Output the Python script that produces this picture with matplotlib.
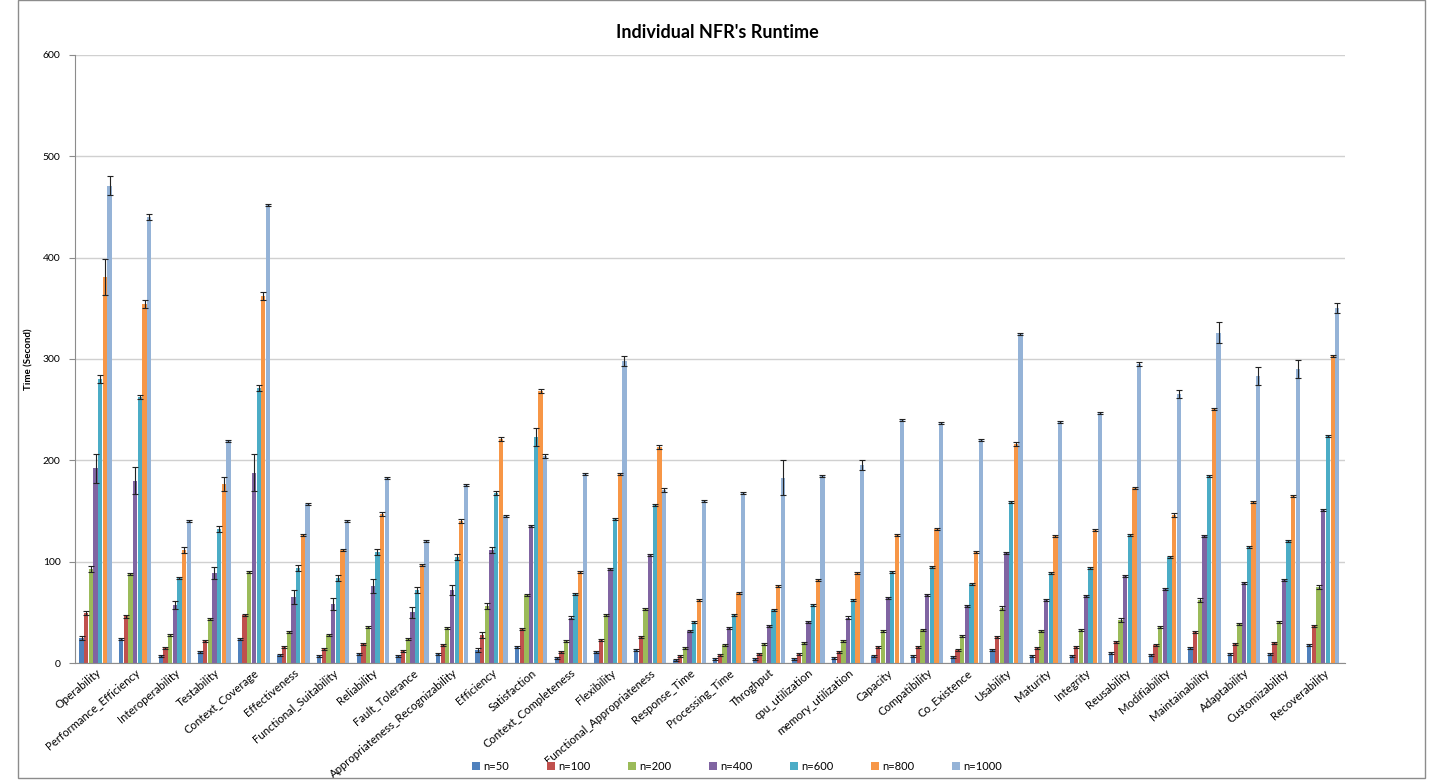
import numpy as np
import matplotlib.pyplot as plt
from matplotlib.patches import Rectangle

# NFR names along the x axis
nfrs = [
    "Operability", "Performance_Efficiency", "Interoperability", "Testability",
    "Context_Coverage", "Effectiveness", "Functional_Suitability", "Reliability",
    "Fault_Tolerance", "Appropriateness_Recognizability", "Efficiency",
    "Satisfaction", "Context_Completeness", "Flexibility",
    "Functional_Appropriateness", "Response_Time", "Processing_Time",
    "Throghput", "cpu_utilization", "memory_utilization", "Capacity",
    "Compatibility", "Co_Existence", "Usability", "Maturity", "Integrity",
    "Reusability", "Modifiability", "Maintainability", "Adaptability",
    "Customizability", "Recoverability",
]

series_names = ["n=50", "n=100", "n=200", "n=400", "n=600", "n=800", "n=1000"]

# mean runtime (seconds) per NFR for each problem size
n50 = [25, 24, 7, 11, 24, 8, 7, 9, 7, 9, 13, 16, 5, 11, 13, 3,
       4, 4, 4, 5, 7, 7, 6, 13, 7, 7, 10, 8, 15, 9, 9, 18]
n100 = [49, 46, 15, 22, 47, 16, 14, 19, 12, 18, 28, 34, 11, 23, 26, 7,
        8, 9, 9, 11, 16, 16, 13, 26, 15, 16, 21, 18, 31, 19, 20, 37]
n200 = [93, 88, 28, 44, 90, 31, 28, 36, 24, 35, 56, 67, 22, 47, 53, 15,
        18, 19, 20, 22, 32, 33, 27, 54, 32, 33, 43, 36, 62, 39, 41, 75]
n400 = [192, 180, 57, 89, 188, 65, 58, 76, 50, 72, 112, 135, 45, 93, 107, 32,
        35, 37, 41, 45, 64, 67, 56, 109, 62, 66, 86, 73, 125, 79, 82, 151]
n600 = [280, 262, 84, 132, 271, 94, 84, 110, 72, 105, 168, 223, 68, 142, 156, 41,
        47, 52, 57, 62, 90, 95, 78, 159, 89, 94, 126, 105, 185, 115, 120, 224]
n800 = [381, 354, 112, 177, 362, 126, 112, 147, 97, 140, 221, 268, 90, 187, 213, 62,
        69, 76, 82, 89, 126, 132, 110, 216, 125, 131, 173, 146, 251, 159, 165, 303]
n1000 = [471, 440, 140, 219, 452, 157, 140, 183, 120, 176, 145, 204, 187, 298, 171, 160,
         168, 183, 185, 195, 240, 237, 220, 325, 238, 247, 295, 265, 326, 283, 290, 350]

# error bar half-widths (seconds)
err50 = [2, 1, 1, 1, 1, 1, 1, 1, 1, 1, 2, 1, 1, 1, 1, 1,
         1, 1, 1, 1, 1, 1, 1, 1, 1, 1, 1, 1, 1, 1, 1, 1]
err100 = [2, 1, 1, 1, 1, 1, 1, 1, 1, 1, 3, 1, 1, 1, 1, 1,
          1, 1, 1, 1, 1, 1, 1, 1, 1, 1, 1, 1, 1, 1, 1, 1]
err200 = [3, 1, 1, 1, 1, 1, 1, 1, 1, 1, 3, 1, 1, 1, 1, 1,
          1, 1, 1, 1, 1, 1, 1, 2, 1, 1, 2, 1, 2, 1, 1, 2]
err400 = [14, 13, 4, 6, 18, 7, 6, 7, 5, 5, 3, 1, 1, 1, 1, 1,
          1, 1, 1, 1, 1, 1, 1, 1, 1, 1, 1, 1, 1, 1, 1, 1]
err600 = [4, 2, 1, 3, 3, 3, 3, 3, 3, 3, 2, 9, 1, 1, 1, 1,
          1, 1, 1, 1, 1, 1, 1, 1, 1, 1, 1, 1, 1, 1, 1, 1]
err800 = [18, 4, 3, 7, 4, 1, 1, 2, 1, 2, 2, 2, 1, 1, 2, 1,
          1, 1, 1, 1, 1, 1, 1, 2, 1, 1, 1, 2, 1, 1, 1, 1]
err1000 = [9, 3, 1, 1, 1, 1, 1, 1, 1, 1, 1, 2, 1, 5, 2, 1,
           1, 17, 1, 5, 1, 1, 1, 1, 1, 1, 2, 4, 10, 9, 9, 5]

colors = ["#4F81BD", "#C0504D", "#9BBB59", "#8064A2", "#4BACC6", "#F79646", "#95B3D7"]

plt.rcParams['font.family'] = ['Lato', 'DejaVu Sans']

values = [n50, n100, n200, n400, n600, n800, n1000]
errors = [err50, err100, err200, err400, err600, err800, err1000]

fig = plt.figure(figsize=(14.34, 7.82), dpi=100)
ax = fig.add_axes([0.052, 0.152, 0.886, 0.778])

x = np.arange(len(nfrs))
width = 0.118
for i, (name, vals, errs, col) in enumerate(zip(series_names, values, errors, colors)):
    offset = (i - 3) * width
    ax.bar(x + offset, vals, width * 0.92, color=col, label=name, zorder=2,
           yerr=errs, error_kw=dict(ecolor="#222222", elinewidth=0.8,
                                    capsize=2.2, capthick=0.8, zorder=3))

ax.set_ylim(0, 600)
ax.set_xlim(-0.53, len(nfrs) - 0.45)
ax.set_yticks(np.arange(0, 601, 100))
ax.yaxis.grid(True, color="#d0d0d0", linewidth=1.0, zorder=0)
ax.set_axisbelow(True)
for side in ["top", "right"]:
    ax.spines[side].set_visible(False)
ax.spines["left"].set_color("#8c8c8c")
ax.spines["bottom"].set_color("#8c8c8c")
ax.tick_params(axis="y", labelsize=7.5, length=4, color="#8c8c8c", pad=6)
ax.tick_params(axis="x", length=0, pad=3)
ax.set_xticks(x)
ax.set_xticklabels(nfrs, rotation=40, ha="right", rotation_mode="anchor", fontsize=8.2)

ax.set_ylabel("Time (Second)", fontsize=7, fontweight="bold", labelpad=7)
fig.text(0.5, 0.958, "Individual NFR's Runtime", ha="center", va="center",
         fontsize=13, fontweight="bold")

fig.legend(loc="center", bbox_to_anchor=(0.514, 0.02), ncol=7, frameon=False,
           fontsize=8, handlelength=0.7, handleheight=0.7, handletextpad=0.3,
           columnspacing=3.4)

# outer chart border
fig.patches.append(Rectangle((0.0125, 0.005), 0.981, 0.995, transform=fig.transFigure,
                             fill=False, edgecolor="#8c8c8c", linewidth=1.0))

fig.savefig("out.png", dpi=100)
